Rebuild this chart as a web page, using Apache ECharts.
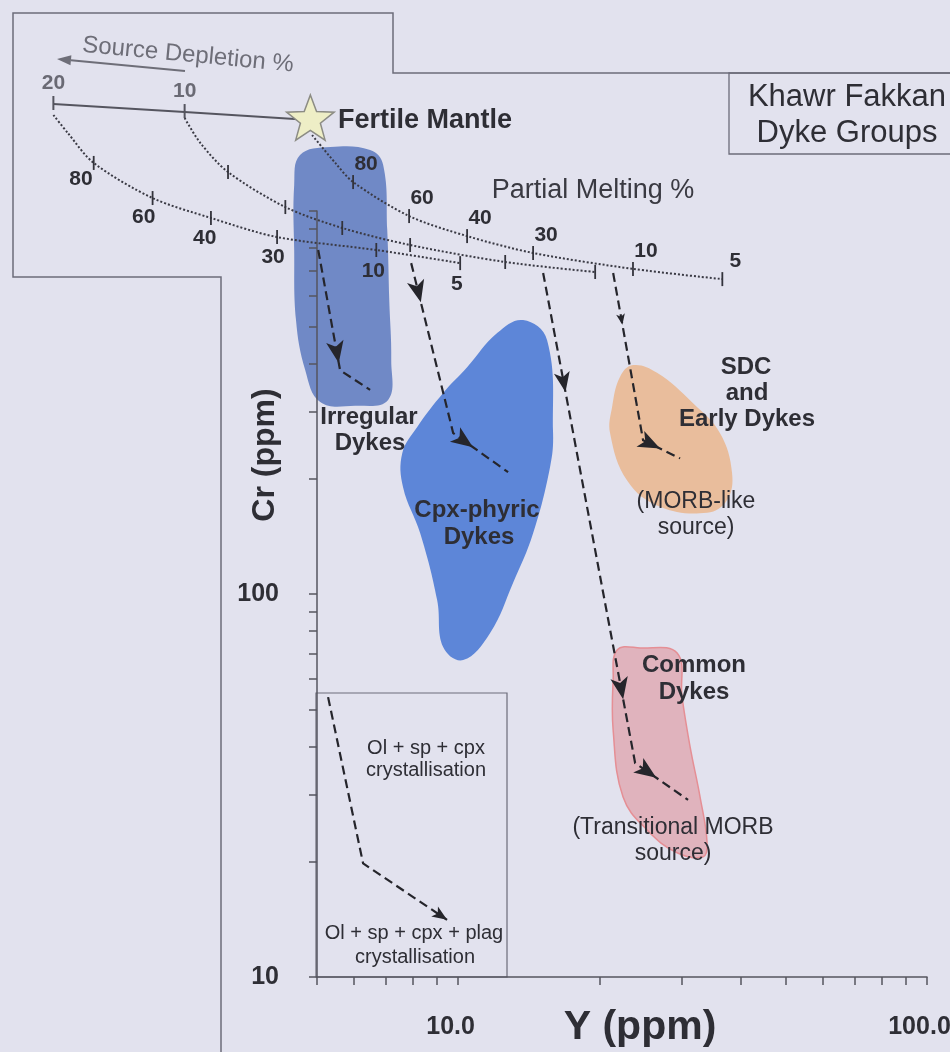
<!DOCTYPE html>
<html>
<head>
<meta charset="utf-8">
<script src="https://cdn.jsdelivr.net/npm/echarts@6/dist/echarts.min.js"></script>
<style>
html, body { margin: 0; padding: 0; background: #e2e2ee; }
#chart { width: 950px; height: 1052px; }
</style>
</head>
<body>
<div id="chart"></div>
<script>
// Cr vs Y (log-log) melting and fractionation model for the Khawr Fakkan dyke groups

// Axis ticks and labels
const xTickValues = [5, 6, 7, 8, 9, 10, 20, 30, 40, 50, 60, 70, 80, 90, 100];
const xLabelValues = [10, 100];
const yTickValues = [10, 20, 30, 40, 50, 60, 70, 80, 90, 100, 200, 300, 400, 500, 600, 700, 800, 900, 1000];
const yLabelValues = [10, 100];

// Source depletion line: 20 %, 10 % and fertile mantle (0 %)
const depletionPath = [[1.37, 1903], [2.61, 1813], [4.84, 1729]];
const depletionLabels = ['20', '10'];
const fertileMantle = [4.84, 1729];

// Partial melting curves; points 3 to 8 carry the melting % ticks
const meltFertile = [[4.88, 1579], [5.47, 1335], [5.97, 1190], [7.86, 970], [10.45, 860], [14.45, 777], [23.6, 706], [36.6, 664]];
const melt10 = [[2.61, 1749], [2.82, 1505], [3.23, 1264], [4.28, 1024], [5.66, 903], [7.90, 815], [12.6, 736], [19.6, 693]];
const melt20 = [[1.37, 1781], [1.47, 1599], [1.67, 1335], [2.23, 1081], [2.97, 959], [4.11, 855], [6.69, 791], [10.1, 731]];
const meltLabels = ['80', '60', '40', '30', '10', '5'];

// Dyke group fields (Y, Cr)
const irregularField = [[4.60, 1400], [5.34, 1469], [6.49, 1443], [6.92, 1319], [7.06, 892], [7.13, 586], [7.20, 408], [7.09, 321], [6.03, 310], [5.08, 317], [4.72, 384], [4.51, 519], [4.47, 791], [4.47, 1169]];
const cpxField = [[13.76, 519], [15.48, 460], [15.94, 263], [15.71, 215], [14.45, 144], [13.10, 107], [11.70, 79.1], [10.25, 67.2], [9.29, 72.7], [9.02, 96.5], [8.30, 144], [7.63, 190], [7.60, 233], [8.18, 273], [9.29, 335], [10.45, 391], [12.11, 480]];
const sdcField = [[23.61, 396], [26.56, 378], [31.70, 315], [36.19, 263], [38.39, 207], [37.46, 176], [33.96, 163], [26.96, 169], [22.93, 198], [21.09, 263], [21.30, 308], [22.15, 369]];
const commonField = [[21.83, 71.4], [24.44, 72.3], [29.31, 70.1], [30.03, 53.8], [31.24, 39.9], [32.81, 29.5], [33.96, 22.4], [33.30, 20.6], [29.31, 21.1], [25.29, 24.2], [22.48, 29.5], [21.41, 44.1], [21.41, 59.6]];

// Melt + fractional crystallisation trends (Y, Cr)
const irregularTrend = [[5.03, 791], [5.60, 384], [6.49, 341]];
const cpxTrend = [[7.94, 731], [9.76, 263], [12.78, 208]];
const commonTrend = [[15.18, 689], [23.85, 36.2], [30.93, 29.0]];
const sdcTrend = [[21.41, 689], [24.80, 252], [29.74, 226]];
const fracTrend = [[5.28, 53.8], [6.27, 19.8], [9.47, 14.1]];

const FONT = '"Liberation Sans", Arial, Helvetica, sans-serif';
const INK = '#2e2e35';
const FRAME = '#6c6c7a';

// Arrowhead placement along each trend: segment index, fraction along it, size
const trendStyles = [
  { path: irregularTrend, heads: [{ seg: 0, at: 0.94, size: 22 }] },
  { path: cpxTrend, heads: [{ seg: 0, at: 0.23, size: 22 }, { seg: 1, at: 0.36, size: 22 }] },
  { path: commonTrend, heads: [{ seg: 0, at: 0.243, size: 20 }, { seg: 0, at: 0.87, size: 22 }, { seg: 1, at: 0.4, size: 22 }] },
  { path: sdcTrend, heads: [{ seg: 0, at: 0.31, size: 11 }, { seg: 1, at: 0.46, size: 22 }] },
  { path: fracTrend, heads: [{ seg: 1, at: 1.0, size: 15 }] }
];

function txt(text, x, y, size, weight, fill, extra, align) {
  return Object.assign({
    type: 'text', x: x, y: y, z: 100,
    style: {
      text: text, fill: fill || INK,
      font: (weight || 'normal') + ' ' + size + 'px ' + FONT,
      align: align || 'center', verticalAlign: 'middle',
      textAlign: align || 'center', textVerticalAlign: 'middle'
    }
  }, extra || {});
}

function ctext(text, p, size, weight, fill) {
  return {
    type: 'text', z2: 10,
    style: {
      text: text, x: p[0], y: p[1], fill: fill || INK,
      font: (weight || 'normal') + ' ' + size + 'px ' + FONT,
      align: 'center', verticalAlign: 'middle',
      textAlign: 'center', textVerticalAlign: 'middle'
    }
  };
}

function renderFields(params, api) {
  const poly = (pts, fill, stroke) => ({
    type: 'polygon',
    shape: { points: pts.map(p => api.coord(p)), smooth: 0.4 },
    style: { fill: fill, stroke: stroke || null, lineWidth: stroke ? 1.5 : 0 }
  });
  return {
    type: 'group',
    children: [
      poly(irregularField, '#7089c6'),
      poly(cpxField, '#5d86d8'),
      poly(sdcField, '#e9bd9c'),
      poly(commonField, '#e0b3bd', '#e58f95')
    ]
  };
}

function renderMelting(params, api) {
  const children = [];
  // depletion line
  const dep = depletionPath.map(p => api.coord(p));
  children.push({ type: 'polyline', shape: { points: dep }, style: { stroke: '#55555f', lineWidth: 2, fill: null } });
  depletionLabels.forEach((lab, i) => {
    const c = dep[i];
    children.push({ type: 'line', shape: { x1: c[0], y1: c[1] - 8, x2: c[0], y2: c[1] + 6 }, style: { stroke: '#55555f', lineWidth: 2 } });
    children.push(ctext(lab, [c[0], c[1] - 21], 21, 'bold', '#6a6a74'));
  });
  // melting curves: fertile-mantle labels sit above right, 20 % labels below left
  const curves = [
    { pts: meltFertile, side: -1, labels: true },
    { pts: melt10, side: 1, labels: false },
    { pts: melt20, side: 1, labels: true }
  ];
  curves.forEach(cv => {
    const px = cv.pts.map(p => api.coord(p));
    children.push({ type: 'polyline', shape: { points: px, smooth: 0.3 }, style: { stroke: '#3a3a44', lineWidth: 2, lineDash: [2, 2], fill: null } });
    for (let i = 2; i < px.length; i++) {
      const c = px[i];
      children.push({ type: 'line', shape: { x1: c[0], y1: c[1] - 7, x2: c[0], y2: c[1] + 7 }, style: { stroke: '#33333b', lineWidth: 1.8 } });
      if (!cv.labels) continue;
      let lp;
      if (cv.side < 0) {
        lp = [c[0] + 13, c[1] - 18];
      } else {
        const a = px[i - 1], b = px[Math.min(i + 1, px.length - 1)];
        const len = Math.hypot(b[0] - a[0], b[1] - a[1]);
        const dx = (b[0] - a[0]) / len, dy = (b[1] - a[1]) / len;
        lp = [c[0] - dy * 21, c[1] + dx * 21];
      }
      children.push(ctext(meltLabels[i - 2], lp, 21, 'bold', INK));
    }
  });
  // fertile mantle star
  const s = api.coord(fertileMantle);
  const star = [];
  for (let k = 0; k < 10; k++) {
    const r = k % 2 === 0 ? 25 : 10.5;
    const ang = -Math.PI / 2 + k * Math.PI / 5;
    star.push([s[0] + r * Math.cos(ang), s[1] + r * Math.sin(ang)]);
  }
  children.push({ type: 'polygon', shape: { points: star }, style: { fill: '#eeeec6', stroke: '#8c8c84', lineWidth: 1.5 } });
  return { type: 'group', children: children };
}

function renderTrends(params, api) {
  const children = [];
  trendStyles.forEach(tr => {
    const pts = tr.path.map(p => api.coord(p));
    children.push({ type: 'polyline', shape: { points: pts }, style: { stroke: '#25252b', lineWidth: 2.2, lineDash: [9, 5], fill: null } });
    tr.heads.forEach(h => {
      const a = pts[h.seg], b = pts[h.seg + 1];
      const tip = [a[0] + (b[0] - a[0]) * h.at, a[1] + (b[1] - a[1]) * h.at];
      const len = Math.hypot(b[0] - a[0], b[1] - a[1]);
      const dx = (b[0] - a[0]) / len, dy = (b[1] - a[1]) / len;
      const L = h.size, W = h.size * 0.8;
      const bx = tip[0] - dx * L, by = tip[1] - dy * L;
      children.push({
        type: 'polygon',
        shape: { points: [tip, [bx - dy * W / 2, by + dx * W / 2], [tip[0] - dx * L * 0.75, tip[1] - dy * L * 0.75], [bx + dy * W / 2, by - dx * W / 2]] },
        style: { fill: '#25252b' }
      });
    });
  });
  return { type: 'group', children: children };
}

// Arrow beside "Source Depletion %"
function depletionArrow() {
  const tail = [185, 71], tip = [57, 59];
  const len = Math.hypot(tip[0] - tail[0], tip[1] - tail[1]);
  const dx = (tip[0] - tail[0]) / len, dy = (tip[1] - tail[1]) / len;
  const L = 14, W = 10;
  const bx = tip[0] - dx * L, by = tip[1] - dy * L;
  return [
    { type: 'line', z: 100, shape: { x1: tail[0], y1: tail[1], x2: bx, y2: by }, style: { stroke: '#6e6e78', lineWidth: 2 } },
    { type: 'polygon', z: 100, shape: { points: [tip, [bx - dy * W / 2, by + dx * W / 2], [bx + dy * W / 2, by - dx * W / 2]] }, style: { fill: '#6e6e78' } }
  ];
}

const labelFont = { fontSize: 25, fontWeight: 'bold', fontFamily: FONT, color: INK };

const option = {
  backgroundColor: '#e2e2ee',
  animation: false,
  grid: { left: 317, right: 23, top: 211, bottom: 75, containLabel: false, outerBoundsMode: 'none' },
  xAxis: {
    type: 'log', logBase: 10, min: 5, max: 100, z: 3,
    axisLine: { lineStyle: { color: '#55555f', width: 1.5 } },
    axisTick: { show: true, customValues: xTickValues, length: 8, lineStyle: { color: '#55555f', width: 1.5 } },
    axisLabel: Object.assign({ customValues: xLabelValues, margin: 38, padding: [0, 15, 0, 0], formatter: v => Number(v).toFixed(1) }, labelFont),
    splitLine: { show: false }, minorTick: { show: false }
  },
  yAxis: {
    type: 'log', logBase: 10, min: 10, max: 1000, z: 3,
    axisLine: { lineStyle: { color: '#55555f', width: 1.5 } },
    axisTick: { show: true, customValues: yTickValues, length: 8, lineStyle: { color: '#55555f', width: 1.5 } },
    axisLabel: Object.assign({ customValues: yLabelValues, margin: 38, formatter: v => String(Math.round(v)) }, labelFont),
    splitLine: { show: false }, minorTick: { show: false }
  },
  series: [
    { type: 'custom', name: 'fields', z: 1, clip: false, silent: true, data: [[10, 100]], renderItem: renderFields },
    { type: 'custom', name: 'melting', z: 4, clip: false, silent: true, data: [[10, 100]], renderItem: renderMelting },
    { type: 'custom', name: 'trends', z: 5, clip: false, silent: true, data: [[10, 100]], renderItem: renderTrends }
  ],
  graphic: [
    { type: 'polyline', z: 0, shape: { points: [[960, 73], [393, 73], [393, 13], [13, 13], [13, 277], [221, 277], [221, 1060]] }, style: { stroke: FRAME, lineWidth: 1.5, fill: null } },
    { type: 'rect', z: 0, shape: { x: 729, y: 73, width: 240, height: 81 }, style: { stroke: FRAME, lineWidth: 1.3, fill: null } },
    { type: 'rect', z: 0, shape: { x: 316, y: 693, width: 191, height: 284 }, style: { stroke: FRAME, lineWidth: 1.2, fill: null } },
    txt('Khawr Fakkan', 847, 97, 31),
    txt('Dyke Groups', 847, 133, 31),
    txt('Source Depletion %', 188, 55, 24, 'normal', '#6e6e78', { rotation: -0.094 }),
    ...depletionArrow(),
    txt('Fertile Mantle', 338, 121, 27, 'bold', INK, null, 'left'),
    txt('Partial Melting %', 593, 191, 27, 'normal', '#3a3a42'),
    txt('Irregular', 369, 417, 24, 'bold'),
    txt('Dykes', 370, 443, 24, 'bold'),
    txt('Cpx-phyric', 477, 510, 24, 'bold'),
    txt('Dykes', 479, 537, 24, 'bold'),
    txt('SDC', 746, 367, 24, 'bold'),
    txt('and', 747, 393, 24, 'bold'),
    txt('Early Dykes', 747, 419, 24, 'bold'),
    txt('(MORB-like', 696, 502, 23, 'normal'),
    txt('source)', 696, 528, 23, 'normal'),
    txt('Common', 694, 665, 24, 'bold'),
    txt('Dykes', 694, 692, 24, 'bold'),
    txt('(Transitional MORB', 673, 828, 23, 'normal'),
    txt('source)', 673, 854, 23, 'normal'),
    txt('Ol + sp + cpx', 426, 748, 20, 'normal'),
    txt('crystallisation', 426, 770, 20, 'normal'),
    txt('Ol + sp + cpx + plag', 414, 933, 20, 'normal'),
    txt('crystallisation', 415, 957, 20, 'normal'),
    txt('Cr (ppm)', 265, 455, 32, 'bold', INK, { rotation: Math.PI / 2 }),
    txt('Y (ppm)', 640, 1028, 41, 'bold')
  ]
};

const chart = echarts.init(document.getElementById('chart'), null, { renderer: 'canvas' });
chart.setOption(option);
</script>
</body>
</html>
